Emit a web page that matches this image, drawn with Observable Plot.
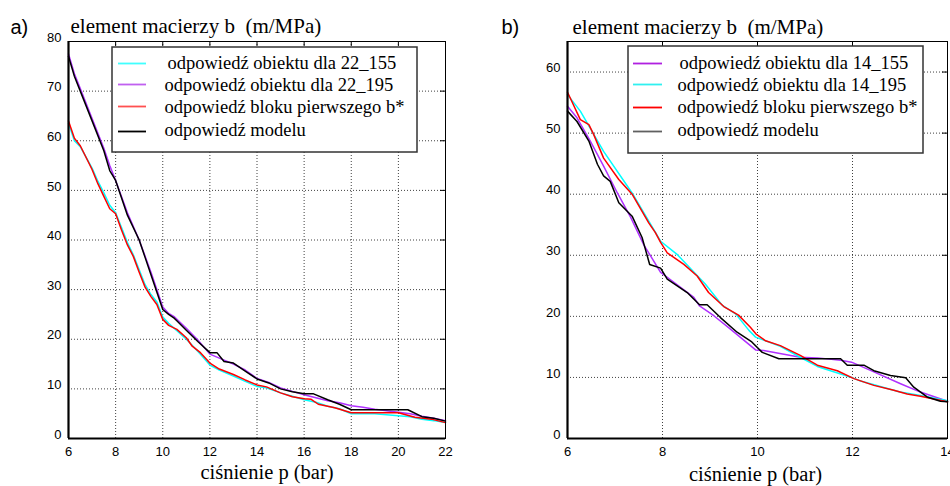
<!DOCTYPE html>
<html>
<head>
<meta charset="utf-8">
<script src="https://cdn.jsdelivr.net/npm/d3@7"></script>
<script src="https://cdn.jsdelivr.net/npm/@observablehq/plot@0.6"></script>
<style>
  html, body { margin: 0; padding: 0; background: white; }
  #root { position: relative; width: 950px; height: 486px; overflow: hidden; background: white; }
</style>
</head>
<body>
<div id="root"></div>
<script>
// ---------- data ----------
const yTitle = "element macierzy b  (m/MPa)";
const xTitle = "ciśnienie p (bar)";
// panel a)
const aXTicks = [6, 8, 10, 12, 14, 16, 18, 20, 22];
const aYTicks = [0, 10, 20, 30, 40, 50, 60, 70, 80];
const aLabels = ["odpowiedź obiektu dla 22_155", "odpowiedź obiektu dla 22_195", "odpowiedź bloku pierwszego b*", "odpowiedź modelu"];
const a_obj155 = [[6,63.5],[6.25,60],[6.5,58.8],[7,54.5],[7.25,51.8],[7.5,49.5],[7.75,47],[8,45.5],[8.25,42.5],[8.5,39.5],[8.75,37],[9,34],[9.25,31],[9.5,29],[9.75,27.5],[10,24.5],[10.25,23.2],[10.6,21.7],[11,20],[11.25,18.8],[11.6,17],[12,14.8],[12.4,13.8],[13,12.6],[13.5,11.5],[14,10.5],[14.4,10.2],[15,9.2],[15.5,8.5],[16,7.8],[16.5,7.3],[17,6.5],[17.5,6.0],[18,5.0],[19,5.0],[20,4.6],[20.5,4.4],[21,3.9],[21.5,3.6],[22,3.2]];
const a_obj195 = [[6,77.5],[6.25,73.5],[6.5,70.5],[7,64.5],[7.5,58.5],[7.75,55],[8,52],[8.5,45.5],[9,40],[9.5,33.5],[10,26.5],[10.25,25.2],[10.5,24.5],[11,22.2],[11.5,19.8],[12,17],[12.5,16],[13,15],[13.5,13.8],[14,12.1],[14.5,11.3],[15,10.2],[15.5,9.5],[16,8.8],[16.5,8.2],[17,7.6],[17.5,7.2],[18,6.6],[18.5,6.3],[19,5.9],[19.5,5.6],[20,5.3],[20.5,5.0],[21,4.5],[21.5,4.1],[22,3.6]];
const a_blok = [[6,64],[6.25,60.5],[6.5,59],[7,54.2],[7.25,51.3],[7.5,48.8],[7.75,46.3],[8,45.3],[8.25,42],[8.5,39],[8.75,36.7],[9,33.5],[9.25,30.5],[9.5,28.6],[9.75,27],[10,24],[10.25,22.8],[10.6,22],[11,20.3],[11.25,18.6],[11.6,17.3],[12,15.2],[12.4,14],[13,12.9],[13.5,11.8],[14,10.8],[14.4,10.4],[15,9.2],[15.5,8.4],[16,8.0],[16.3,7.9],[16.6,6.9],[17.3,6.2],[18,5.2],[20,5.2],[20.7,4.3],[21.4,3.9],[22,3.2]];
const a_model = [[6,77],[6.25,73],[6.5,70],[7,64],[7.5,58],[7.75,54],[8,52],[8.5,45],[9,40],[9.25,36.5],[9.5,33],[10,26],[10.25,25],[10.5,24.2],[11,21.8],[11.5,19.5],[12,17.3],[12.3,17.3],[12.6,15.5],[13,15.2],[13.5,13.6],[14,12],[14.5,11.2],[15,10],[15.5,9.4],[16,9],[16.4,9],[17,7.8],[17.5,6.9],[18,5.8],[20.4,5.8],[21,4.4],[21.5,4.1],[22,3.5]];

// panel b)
const bXTicks = [6, 8, 10, 12, 14];
const bYTicks = [0, 10, 20, 30, 40, 50, 60];
const bLabels = ["odpowiedź obiektu dla 14_155", "odpowiedź obiektu dla 14_195", "odpowiedź bloku pierwszego b*", "odpowiedź modelu"];
const b_obj155 = [[6,54.4],[6.2,52.5],[6.48,48.7],[6.76,44.6],[7.05,40.2],[7.33,36.2],[7.6,31.8],[7.96,27.2],[8.1,26.4],[8.66,23.1],[8.78,21.7],[9.08,20.1],[9.43,17.9],[9.96,14.5],[10.13,14.4],[10.9,13.3],[11.26,13.2],[11.75,12.8],[11.98,12.5],[12.45,10.9],[13,9.0],[13.43,7.6],[14,6.1]];
const b_obj195 = [[6,56.3],[6.27,53.6],[6.76,47],[7.36,40.2],[7.96,32.3],[8.3,30.2],[8.9,25.3],[9.26,21.8],[9.54,20.4],[9.82,17.7],[9.96,16.6],[10.48,15.1],[10.9,13.3],[11.26,11.8],[11.98,10.0],[12.17,9.4],[13,7.6],[13.43,7.06],[14,6.2]];
const b_blok = [[6,56.7],[6.06,55.7],[6.27,52.2],[6.45,51.4],[6.55,49.8],[6.76,45.9],[7.08,42.4],[7.36,40],[7.71,35.3],[7.85,33.7],[7.96,32.1],[8.1,30.4],[8.45,28.5],[8.73,26.6],[8.97,23.9],[9.29,21.6],[9.6,20.2],[9.85,18.2],[9.97,17.1],[10.17,16.0],[10.48,15.2],[10.9,13.6],[11.26,12.0],[11.68,11.1],[12.03,9.8],[12.45,8.7],[12.87,7.9],[13.15,7.3],[13.43,6.9],[14,6.0]];
const b_model = [[6,53.6],[6.2,51.9],[6.45,48.7],[6.63,44.9],[6.76,43],[6.9,42.1],[7.08,38.6],[7.36,36.4],[7.57,32.9],[7.73,28.5],[7.96,27.9],[8.1,26.1],[8.52,23.9],[8.78,21.9],[8.94,21.9],[9.22,19.8],[9.57,17.4],[9.88,15.8],[10.1,14.1],[10.45,13.05],[11.75,13.05],[11.89,12],[12.24,12],[12.45,11.1],[12.8,10.3],[13.12,9.95],[13.29,8.4],[13.57,6.8],[13.85,6.1],[14,6.0]];

// ---------- drawing ----------
const SERIF = "Liberation Serif, Times New Roman, serif";
const SANS = "Liberation Sans, Arial, sans-serif";
const root = document.getElementById("root");

function panel(o) {
  const {left, xDomain, yDomain, xTicks, yTicks, series, marginLeft, marginRight, tag, lay} = o;
  const [x0, x1] = xDomain, [y0, y1] = yDomain;
  const width = 475, height = 486, marginTop = 41, marginBottom = 48;
  const pw = width - marginLeft - marginRight, ph = height - marginTop - marginBottom;
  // invert panel pixel positions (layout of legend) into scale space
  const xs = px => x0 + (px - marginLeft) * (x1 - x0) / pw;
  const ys = py => y1 - (py - marginTop) * (y1 - y0) / ph;
  const tx = 5 * (x1 - x0) / pw, ty = 5 * (y1 - y0) / ph; // 5px inward ticks
  const grid = {stroke: "#000", strokeOpacity: 0.75, strokeDasharray: "1,2", strokeWidth: 1};
  const L = lay.legend;
  const chart = Plot.plot({
    width, height, marginLeft, marginRight, marginTop, marginBottom,
    style: {fontFamily: SANS, fontSize: "13px", color: "#000", background: "white", overflow: "visible"},
    x: {domain: xDomain, label: null},
    y: {domain: yDomain, label: null},
    marks: [
      Plot.ruleX(xTicks.filter(d => d !== x0 && d !== x1), {...grid}),
      Plot.ruleY(yTicks.filter(d => d !== y0 && d !== y1), {...grid}),
      ...series.map(s => Plot.line(s.data, {x: d => d[0], y: d => d[1], stroke: s.color, strokeWidth: 1.5})),
      Plot.ruleX(xTicks, {x: d => d, y1: y1, y2: y1 - ty, stroke: "#000"}),
      Plot.ruleY(yTicks, {y: d => d, x1: x1, x2: x1 - tx, stroke: "#000"}),
      Plot.frame({stroke: "#000", strokeWidth: 1}),
      Plot.ruleX([x0], {stroke: "#000", strokeWidth: 2.2}),
      Plot.ruleY([y0], {stroke: "#000", strokeWidth: 2.2}),
      Plot.axisX({ticks: xTicks, tickSize: 0, tickPadding: 8, tickFormat: d => d}),
      Plot.axisY({ticks: yTicks, tickSize: 0, tickPadding: 7, dy: -4, tickFormat: d => d}),
      // legend
      Plot.rect([0], {x1: xs(L.box[0]), x2: xs(L.box[1]), y1: ys(L.box[2]), y2: ys(L.box[3]), fill: "white", stroke: "#333", strokeWidth: 1.5}),
      Plot.ruleY(series, {y: (d, i) => ys(L.lineY[i]), x1: xs(L.lineX[0]), x2: xs(L.lineX[1]), stroke: d => d.legendColor, strokeWidth: 1.8}),
      Plot.text(series, {x: (d, i) => xs(L.textX[i]), y: (d, i) => ys(L.base[i]), text: d => d.label, textAnchor: "start", lineAnchor: "bottom", fontFamily: SERIF, fontSize: 18.5, fill: "#000"}),
      // titles
      Plot.text([tag], {frameAnchor: "top-left", dx: lay.tag[0], dy: lay.tag[1], textAnchor: "start", lineAnchor: "bottom", fontFamily: SANS, fontSize: 20, fill: "#000"}),
      Plot.text([yTitle], {frameAnchor: "top-left", dx: lay.title[0], dy: lay.title[1], textAnchor: "start", lineAnchor: "bottom", fontFamily: SERIF, fontSize: 21, fill: "#000"}),
      Plot.text([xTitle], {frameAnchor: "bottom", dx: lay.xlab[0], dy: lay.xlab[1], textAnchor: "middle", lineAnchor: "bottom", fontFamily: SERIF, fontSize: 20.5, fill: "#000"})
    ]
  });
  const div = document.createElement("div");
  div.style.position = "absolute";
  div.style.top = "0px";
  div.style.left = left + "px";
  div.appendChild(chart);
  root.appendChild(div);
}

// panel a
const seriesA = [
  {data: a_obj155, color: "#00ffff", legendColor: "#40ffff", label: aLabels[0]},
  {data: a_obj195, color: "#b030ff", legendColor: "#c060f0", label: aLabels[1]},
  {data: a_blok, color: "#ff0000", legendColor: "#ff5050", label: aLabels[2]},
  {data: a_model, color: "#000000", legendColor: "#000000", label: aLabels[3]}
];
panel({left: 0, xDomain: [6, 22], yDomain: [0, 80], xTicks: aXTicks, yTicks: aYTicks, series: seriesA,
  marginLeft: 68, marginRight: 30, tag: "a)",
  lay: {tag: [-58, -8], title: [2, -9], xlab: [10, 40],
        legend: {box: [112, 417, 47, 152], lineX: [118, 146], lineY: [63, 84, 106, 131], textX: [167, 164, 164, 164], base: [68, 90, 112, 135]}}});

// panel b
const seriesB = [
  {data: b_obj155, color: "#b030ff", legendColor: "#b020e0", label: bLabels[0]},
  {data: b_obj195, color: "#00ffff", legendColor: "#30f0f0", label: bLabels[1]},
  {data: b_blok, color: "#ff0000", legendColor: "#ff0000", label: bLabels[2]},
  {data: b_model, color: "#000000", legendColor: "#606060", label: bLabels[3]}
];
panel({left: 475, xDomain: [6, 14], yDomain: [0, 65], xTicks: bXTicks, yTicks: bYTicks, series: seriesB,
  marginLeft: 92, marginRight: 3, tag: "b)",
  lay: {tag: [-66, -8], title: [5, -8], xlab: [-2, 42],
        legend: {box: [153, 448, 46, 153], lineX: [158, 187], lineY: [63, 84, 107, 131], textX: [204, 202, 202, 202], base: [68, 90, 112, 135]}}});
</script>
</body>
</html>
